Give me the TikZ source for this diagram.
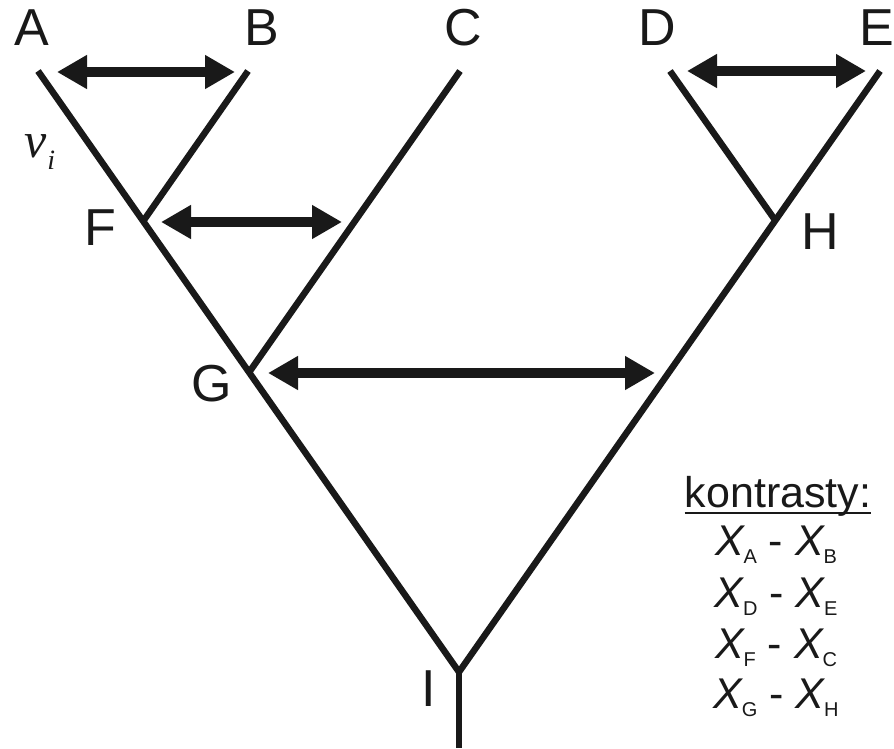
\documentclass[tikz,border=0pt]{standalone}
\usepackage{fontspec}
\setmainfont{Liberation Sans}
\newfontfamily\libserif{Liberation Serif}
\usetikzlibrary{arrows.meta}
\newcommand{\legsub}[2]{\textit{#1}\kern-1.5pt\raisebox{-8pt}{\fontsize{20}{20}\selectfont #2}}
\begin{document}
\begin{tikzpicture}[x=1pt,y=-1pt,
  branch/.style={line width=6.5pt,black!90},
  contrast/.style={line width=10pt,black!90,{Triangle[length=30pt,width=32pt]}-{Triangle[length=30pt,width=32pt]}},
  lbl/.style={font=\fontsize{52}{52}\selectfont,inner sep=0pt,text=black!90},
  leg/.style={font=\fontsize{43}{43}\selectfont,inner sep=0pt,anchor=base,text=black!90}]
\useasboundingbox (0,0) rectangle (894,748);
% tree coordinates
\coordinate (A) at (38,71);
\coordinate (B) at (248,71);
\coordinate (C) at (460,71);
\coordinate (D) at (670,71);
\coordinate (E) at (880,71);
\coordinate (F) at (144,220);
\coordinate (G) at (250,371);
\coordinate (H) at (775,220);
\coordinate (I) at (459,672);
\coordinate (R) at (459,748);
% branches
\draw[branch,miter limit=20] (A) -- (I) -- (E);
\draw[branch] (I) -- (R);
\draw[branch] (B) -- (F);
\draw[branch] (C) -- (G);
\draw[branch] (D) -- (H);
% contrast arrows
\coordinate (a1) at (57,72);   \coordinate (a2) at (235,72);
\coordinate (f1) at (161,222); \coordinate (f2) at (342,222);
\coordinate (g1) at (268,373); \coordinate (g2) at (655,373);
\coordinate (d1) at (687,71);  \coordinate (d2) at (866,71);
\draw[contrast] (a1) -- (a2);
\draw[contrast] (f1) -- (f2);
\draw[contrast] (g1) -- (g2);
\draw[contrast] (d1) -- (d2);
% labels
\node[lbl] (lA) at (32,28) {A};
\node[lbl] (lB) at (262,28) {B};
\node[lbl] (lC) at (463,28) {C};
\node[lbl] (lD) at (657,28) {D};
\node[lbl] (lE) at (877,28) {E};
\node[lbl] (lF) at (100,228) {F};
\node[lbl] (lG) at (212,384) {G};
\node[lbl] (lH) at (820,232) {H};
\node[lbl] (lI) at (429,689) {I};
\node[inner sep=0pt,anchor=base west,text=black!90] (nu) at (24,157)
  {{\fontsize{50}{50}\selectfont\libserif\itshape ν}\kern1pt\raisebox{-12pt}{\fontsize{28}{28}\selectfont\libserif\itshape i}};
% legend
\node[leg] (leg) at (778,507) {kontrasty:};
\draw[line width=2.5pt,black!90] ([yshift=-6pt]leg.base west) -- ([yshift=-6pt]leg.base east);
\node[leg] (r1) at (776,555) {\legsub{X}{A} - \legsub{X}{B}};
\node[leg] (r2) at (776,607) {\legsub{X}{D} - \legsub{X}{E}};
\node[leg] (r3) at (776,658) {\legsub{X}{F} - \legsub{X}{C}};
\node[leg] (r4) at (776,708) {\legsub{X}{G} - \legsub{X}{H}};
\end{tikzpicture}
\end{document}
